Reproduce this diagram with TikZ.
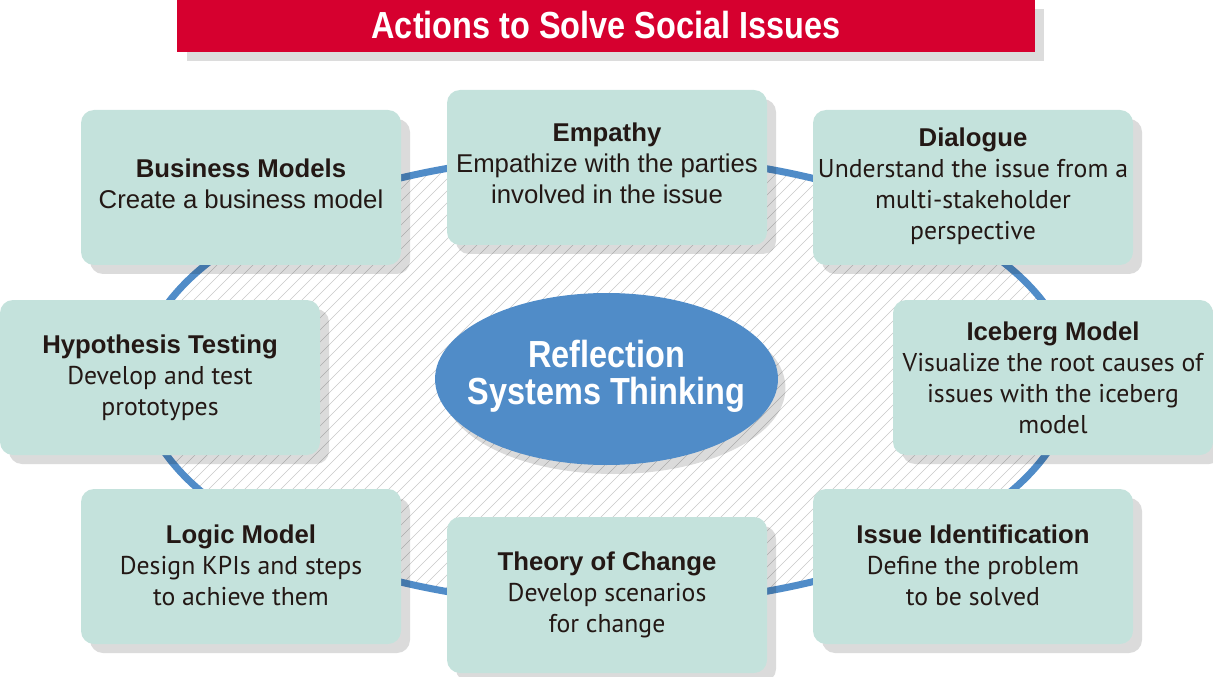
\documentclass[tikz,border=0pt]{standalone}
\usepackage{fontspec}
\setmainfont{Liberation Sans}
\newfontfamily\bodyfont{PT Sans}
\newfontfamily\condfont[FakeStretch=0.86]{Liberation Sans Bold}
\usetikzlibrary{calc}
\definecolor{titlered}{RGB}{214,0,47}
\definecolor{boxfill}{RGB}{196,226,220}
\definecolor{ringblue}{RGB}{80,140,200}
\definecolor{txt}{RGB}{35,24,21}
\definecolor{hatchgray}{RGB}{200,200,200}
\definecolor{titleshadow}{RGB}{220,220,220}
\tikzset{
  boxshadow/.style={fill=black, opacity=0.14, rounded corners=9.75pt},
  actbox/.style={fill=boxfill, rounded corners=9.75pt, inner sep=0pt, align=center,
    text=txt, font=\fontsize{19.3}{23.25}\selectfont},
  ring/.style={draw=ringblue, line width=5.25pt},
  hatch/.style={draw=hatchgray, line width=0.45pt},
  whitetitle/.style={text=white, font=\condfont\fontsize{28.3}{27.75}\selectfont, inner sep=0pt, align=center}
}
\newcommand\actionbox[7][0]{%
  \fill[boxshadow] (#3+9,#4+9) rectangle (#5+9,#6+9);
  \node[actbox, minimum width={(#5-#3)*0.75pt}, minimum height={(#6-#4)*0.75pt}]
    (#2) at ({(#3+#5)/2},{(#4+#6)/2}) {};
  \node[text=txt, align=center, inner sep=0pt, font=\fontsize{19.3}{23.25}\selectfont]
    (#2-text) at ($(#2.center)+(0,#1)$) {#7};
}
\newcommand\hd[1]{{\bfseries #1}}
\begin{document}
\begin{tikzpicture}[x=0.75pt, y=-0.75pt]
\useasboundingbox (0,0) rectangle (1213,677);
% title
\fill[titleshadow] (187,9) rectangle (1044,61);
\fill[titlered] (177,-5) rectangle (1035,52);
\node[whitetitle, anchor=base] (title) at (606,39) {Actions to Solve Social Issues};
% hatched interior
\begin{scope}
  \clip (606,380) ellipse [x radius=349.5pt, y radius=168.75pt];
  \foreach \i in {-708,-696,...,708}
    \draw[hatch] (606+\i-260,380+260) -- (606+\i+260,380-260);
\end{scope}
\draw[ring] (606,380) ellipse [x radius=349.5pt, y radius=168.75pt];
% centre ellipse
\fill[black, opacity=0.14] (614,388) ellipse [x radius=128.6pt, y radius=64.5pt];
\fill[ringblue] (606.5,379) ellipse [x radius=128.6pt, y radius=64.5pt];
\node[whitetitle] (core) at (606.5,376) {Reflection\\Systems Thinking};
% boxes
\actionbox[-4]{biz}{81}{110}{401}{265}{\hd{Business Models}\\Create a business model}
\actionbox[-4]{emp}{447}{90}{767}{245}{\hd{Empathy}\\Empathize with the parties\\involved in the issue}
\actionbox[-1]{dia}{813}{110}{1133}{265}{\hd{Dialogue}\\{\bodyfont Understand the issue from a}\\{\bodyfont multi-stakeholder}\\{\bodyfont perspective}}
\actionbox{hyp}{0}{300}{320}{455}{\hd{Hypothesis Testing}\\{\bodyfont Develop and test}\\{\bodyfont prototypes}}
\actionbox{ice}{893}{300}{1213}{455}{\hd{Iceberg Model}\\{\bodyfont Visualize the root causes of}\\{\bodyfont issues with the iceberg}\\{\bodyfont model}}
\actionbox[-1]{log}{81}{489}{401}{644}{\hd{Logic Model}\\{\bodyfont Design KPIs and steps}\\{\bodyfont to achieve them}}
\actionbox{toc}{447}{517}{767}{673}{\hd{Theory of Change}\\{\bodyfont Develop scenarios}\\{\bodyfont for change}}
\actionbox[-1]{iss}{813}{489}{1133}{644}{\hd{Issue Identification}\\{\bodyfont Define the problem}\\{\bodyfont to be solved}}
\end{tikzpicture}
\end{document}
